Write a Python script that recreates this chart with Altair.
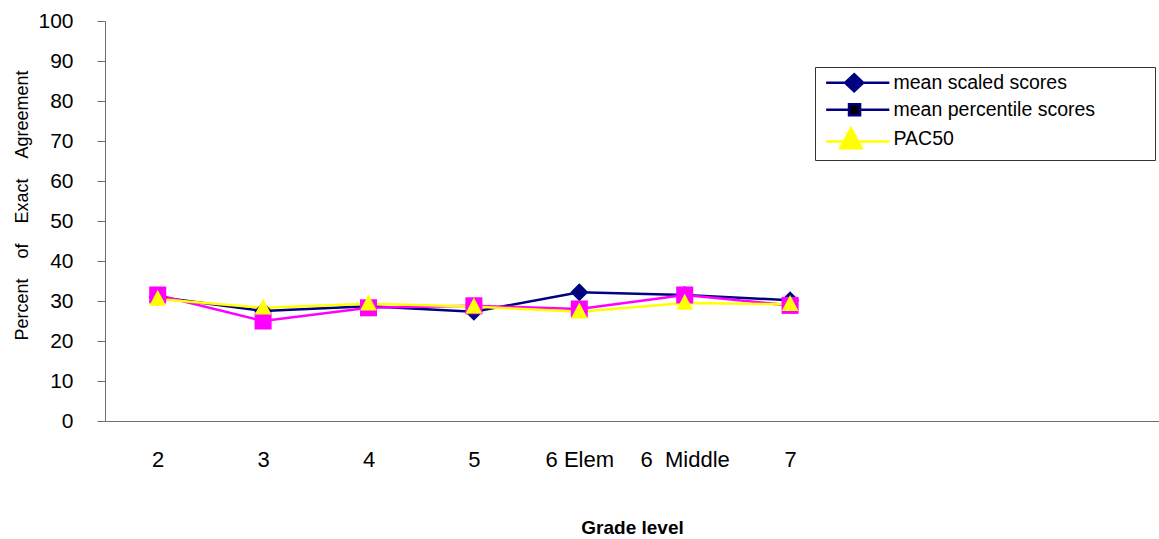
import altair as alt
import pandas as pd

# ---------------- data ----------------
grades = ["2", "3", "4", "5", "6 Elem", "6  Middle", "7"]
empty_slots = [" ", "  ", "   "]
series_names = ["mean scaled scores", "mean percentile scores", "PAC50"]
mean_scaled = [31.0, 27.5, 28.7, 27.3, 32.2, 31.5, 30.2]
mean_percentile = [31.5, 25.0, 28.3, 28.8, 28.0, 31.5, 28.9]
pac50 = [30.5, 28.3, 29.3, 28.6, 27.3, 29.5, 29.2]
y_ticks = [0, 10, 20, 30, 40, 50, 60, 70, 80, 90, 100]

# ---------------- styles ----------------
line_colors = ["#000080", "#FF00FF", "#FFFF00"]
marker_shapes = ["diamond", "square", "M0,-1.15L1.05,0.85L-1.05,0.85Z"]
marker_sizes = [324, 256, 361]
legend_fill = ["#000080", "#000000", "#FFFF00"]
legend_stroke = ["#000080", "#000080", "#FFFF00"]
legend_shapes = [
    "M-3.95,0H3.95M-0.45,-1.06L0.68,0L-0.45,1.06L-1.58,0Z",
    "M-3.95,0H-1.09M0.29,0H3.95M-1.09,-0.69H0.29V0.69H-1.09Z",
    "M-3.95,0.35H3.95M-0.85,-1.3L0.5,1.2H-2.2Z",
]
FONT = "Liberation Sans"
AXIS_GRAY = "#6e6e6e"
NB = "\u00a0"
BLANK = "\u2800"

rows = []
for s, vals in zip(series_names, [mean_scaled, mean_percentile, pac50]):
    for i, (g, v) in enumerate(zip(grades, vals)):
        rows.append({"series": s, "grade": g, "value": v, "idx": i})
df = pd.DataFrame(rows)

x_enc = alt.X(
    "grade:N",
    scale=alt.Scale(domain=grades + empty_slots, type="point", padding=0.5),
    axis=alt.Axis(
        title="Grade level",
        ticks=False,
        labelAngle=0,
        labelFontSize=22,
        labelPadding=28,
        labelExpr="replace(datum.label, regexp(' ', 'g'), '" + NB + "')",
        titleFontSize=19,
        titleFontWeight="bold",
        titleX=527,
        titleY=112,
        titleBaseline="alphabetic",
        titleAlign="center",
        grid=False,
    ),
)
y_enc = alt.Y(
    "value:Q",
    scale=alt.Scale(domain=[0, 100], nice=False),
    axis=alt.Axis(
        values=y_ticks,
        title=("Percent" + NB * 4 + "of" + NB * 4 + "Exact" + NB * 4 + "Agreement"),
        titleFontSize=18,
        titleFontWeight="normal",
        titleAngle=270,
        titleX=-78,
        titleY=184,
        titleAlign="center",
        titleBaseline="alphabetic",
        tickSize=8,
        labelPadding=24,
        labelFontSize=21,
        grid=False,
    ),
)

color_enc = alt.Color(
    "series:N", scale=alt.Scale(domain=series_names, range=line_colors), legend=None
)

lines = alt.Chart(df).mark_line(strokeWidth=2.5).encode(
    x=x_enc, y=y_enc, color=color_enc, order=alt.Order("idx:Q")
)

points = alt.Chart(df).mark_point(filled=True, opacity=1, strokeWidth=0).encode(
    x=x_enc,
    y=y_enc,
    color=color_enc,
    shape=alt.Shape(
        "series:N", scale=alt.Scale(domain=series_names, range=marker_shapes), legend=None
    ),
    size=alt.Size(
        "series:N", scale=alt.Scale(domain=series_names, range=marker_sizes), legend=None
    ),
)

leg = dict(
    orient="none",
    legendX=710,
    legendY=46,
    labelExpr="datum.label + '" + NB * 7 + BLANK + "'",
)

legend_layer = alt.Chart(df).mark_point(opacity=0, strokeWidth=2.5).encode(
    x=x_enc,
    y=y_enc,
    fill=alt.Fill(
        "series:N",
        title=None,
        scale=alt.Scale(domain=series_names, range=legend_fill),
        legend=alt.Legend(**leg),
    ),
    stroke=alt.Stroke(
        "series:N",
        title=None,
        scale=alt.Scale(domain=series_names, range=legend_stroke),
        legend=alt.Legend(**leg),
    ),
    shape=alt.Shape(
        "series:N",
        title=None,
        scale=alt.Scale(domain=series_names, range=legend_shapes),
        legend=alt.Legend(**leg),
    ),
)

chart = (
    alt.layer(legend_layer, lines, points)
    .resolve_scale(shape="independent", fill="independent", stroke="independent")
    .properties(
        width=1054,
        height=400,
        autosize=alt.AutoSizeParams(type="none"),
        padding={"left": 105, "top": 21, "right": 0, "bottom": 118},
    )
    .configure_view(stroke="transparent")
    .configure_axis(
        labelFont=FONT,
        titleFont=FONT,
        labelColor="black",
        titleColor="black",
        domainColor=AXIS_GRAY,
        tickColor=AXIS_GRAY,
        domainWidth=1,
        tickWidth=1,
    )
    .configure_legend(
        labelFont=FONT,
        labelFontSize=19.5,
        labelColor="black",
        labelLimit=600,
        symbolSize=256,
        symbolStrokeWidth=2.5,
        symbolOpacity=1,
        symbolFillColor="black",
        symbolOffset=27,
        labelOffset=26,
        rowPadding=2,
        padding=6,
        strokeColor="#333333",
        fillColor="white",
    )
)

chart.save("out.html", embed_options={"renderer": "svg", "actions": False})
